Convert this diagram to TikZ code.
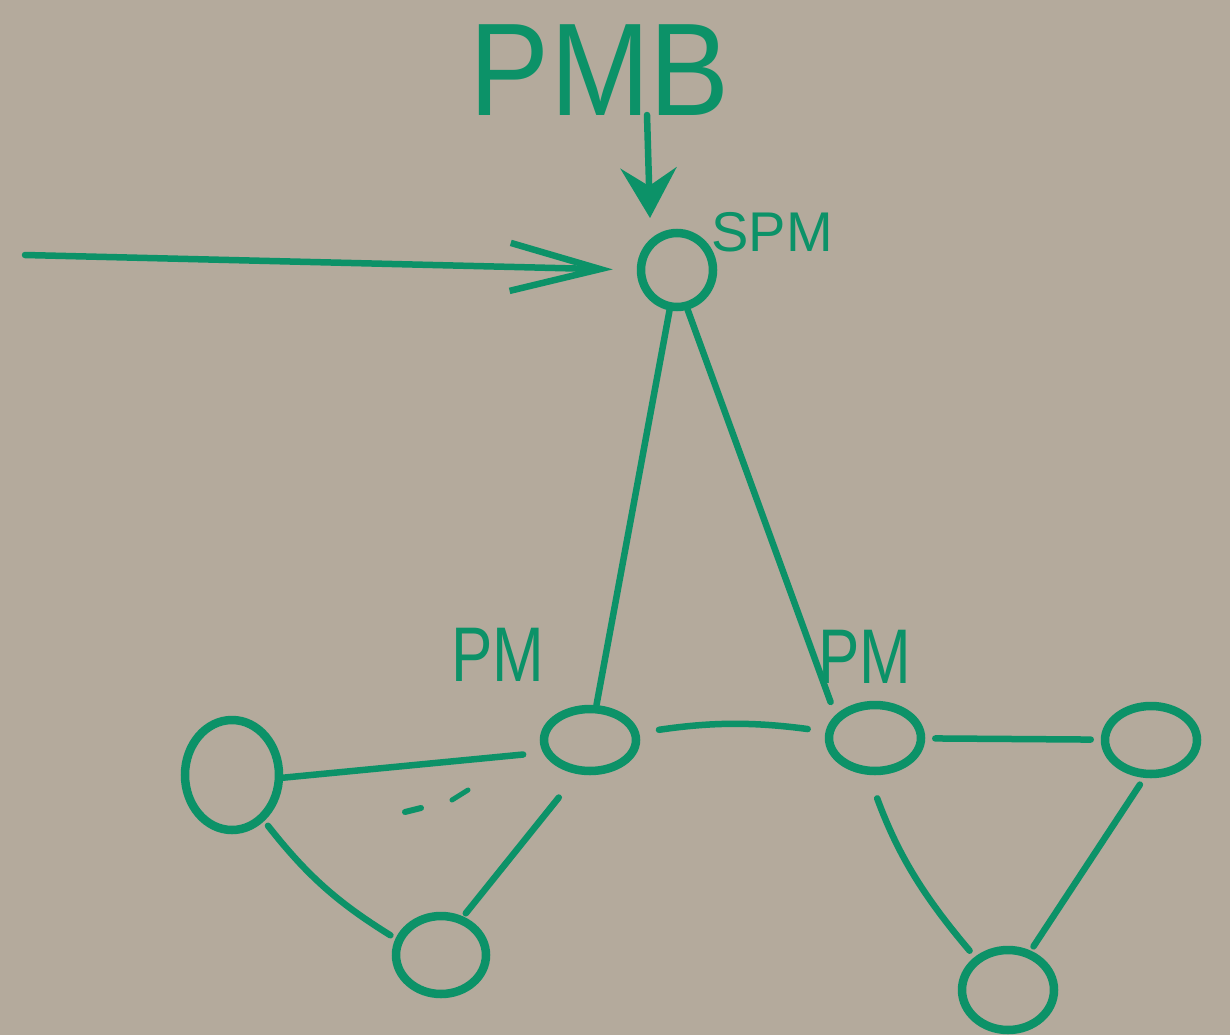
\documentclass[tikz,border=0pt]{standalone}
\usepackage{fontspec}
\setmainfont{Liberation Sans}
\usetikzlibrary{shapes.geometric,arrows.meta}
\definecolor{board}{RGB}{180,170,156}
\definecolor{ink}{RGB}{12,146,104}
\begin{document}
\begin{tikzpicture}[x=1pt,y=-1pt,
  vert/.style={draw=ink,ellipse,line width=8.5pt,inner sep=0pt},
  link/.style={draw=ink,line width=6.5pt,line cap=round},
  lab/.style={text=ink,inner sep=0pt}]
\fill[board] (0,0) rectangle (1230,1035);
\useasboundingbox (0,0) rectangle (1230,1035);
% vertices
\node[vert,minimum width=72pt,minimum height=74pt] (spm) at (677,270) {};
\node[vert,minimum width=92pt,minimum height=62pt] (pmL) at (590,740) {};
\node[vert,minimum width=92pt,minimum height=66pt] (pmR) at (875,738) {};
\node[vert,minimum width=92pt,minimum height=68pt] (fr) at (1151,740) {};
\node[vert,minimum width=94pt,minimum height=110pt] (fl) at (232,775) {};
\node[vert,minimum width=90pt,minimum height=78pt] (bl) at (441,955) {};
\node[vert,minimum width=92pt,minimum height=80pt] (br) at (1008,990) {};
% labels
\node[lab,font=\fontsize{120}{120}\selectfont] (pmb) at (600,70) {\scalebox{1}[1.1]{PMB}};
\node[lab,font=\fontsize{56}{56}\selectfont] (spmlab) at (772,232) {SPM};
\node[lab,font=\fontsize{62}{62}\selectfont] (pmLlab) at (498,655) {\scalebox{1}[1.25]{PM}};
\node[lab,font=\fontsize{62}{62}\selectfont] (pmRlab) at (865,657) {\scalebox{1}[1.25]{PM}};
% arrows
\coordinate (pmbtail) at (647,115);
\coordinate (pmbtip) at (650,218);
\draw[link,-{Stealth[length=50pt,width=56pt,inset=18pt]}] (pmbtail) -- (pmbtip);
\coordinate (intail) at (25,255);
\draw[link,shorten >=24pt,-{Straight Barb[length=90pt,width=48pt]}] (intail) -- (spm.west);
% edges
\draw[link] (spm) -- (pmL);
\draw[link,shorten >=14pt] (spm.-75) -- (pmR.150);
\draw[link,shorten >=20pt] (fl.-3) -- (pmL.195);
\draw[link,shorten <=20pt,shorten >=18pt] (pmL) to[bend left=8] (pmR);
\draw[link,shorten <=10pt,shorten >=10pt] (pmR) -- (fr);
\draw[link,shorten <=6pt,shorten >=6pt] (fl.-55) to[bend right=10] (bl.160);
\draw[link,shorten <=30pt,shorten >=4pt] (pmL.-110) -- (bl.60);
\draw[link,shorten <=25pt,shorten >=8pt] (pmR.-100) to[bend right=10] (br.135);
\draw[link,shorten <=8pt,shorten >=5pt] (fr.-100) -- (br.60);
% stray marks
\draw[link,line width=6pt] (405,812) -- (421,808);
\draw[link,line width=5pt] (452,800) -- (468,790);
\end{tikzpicture}
\end{document}
